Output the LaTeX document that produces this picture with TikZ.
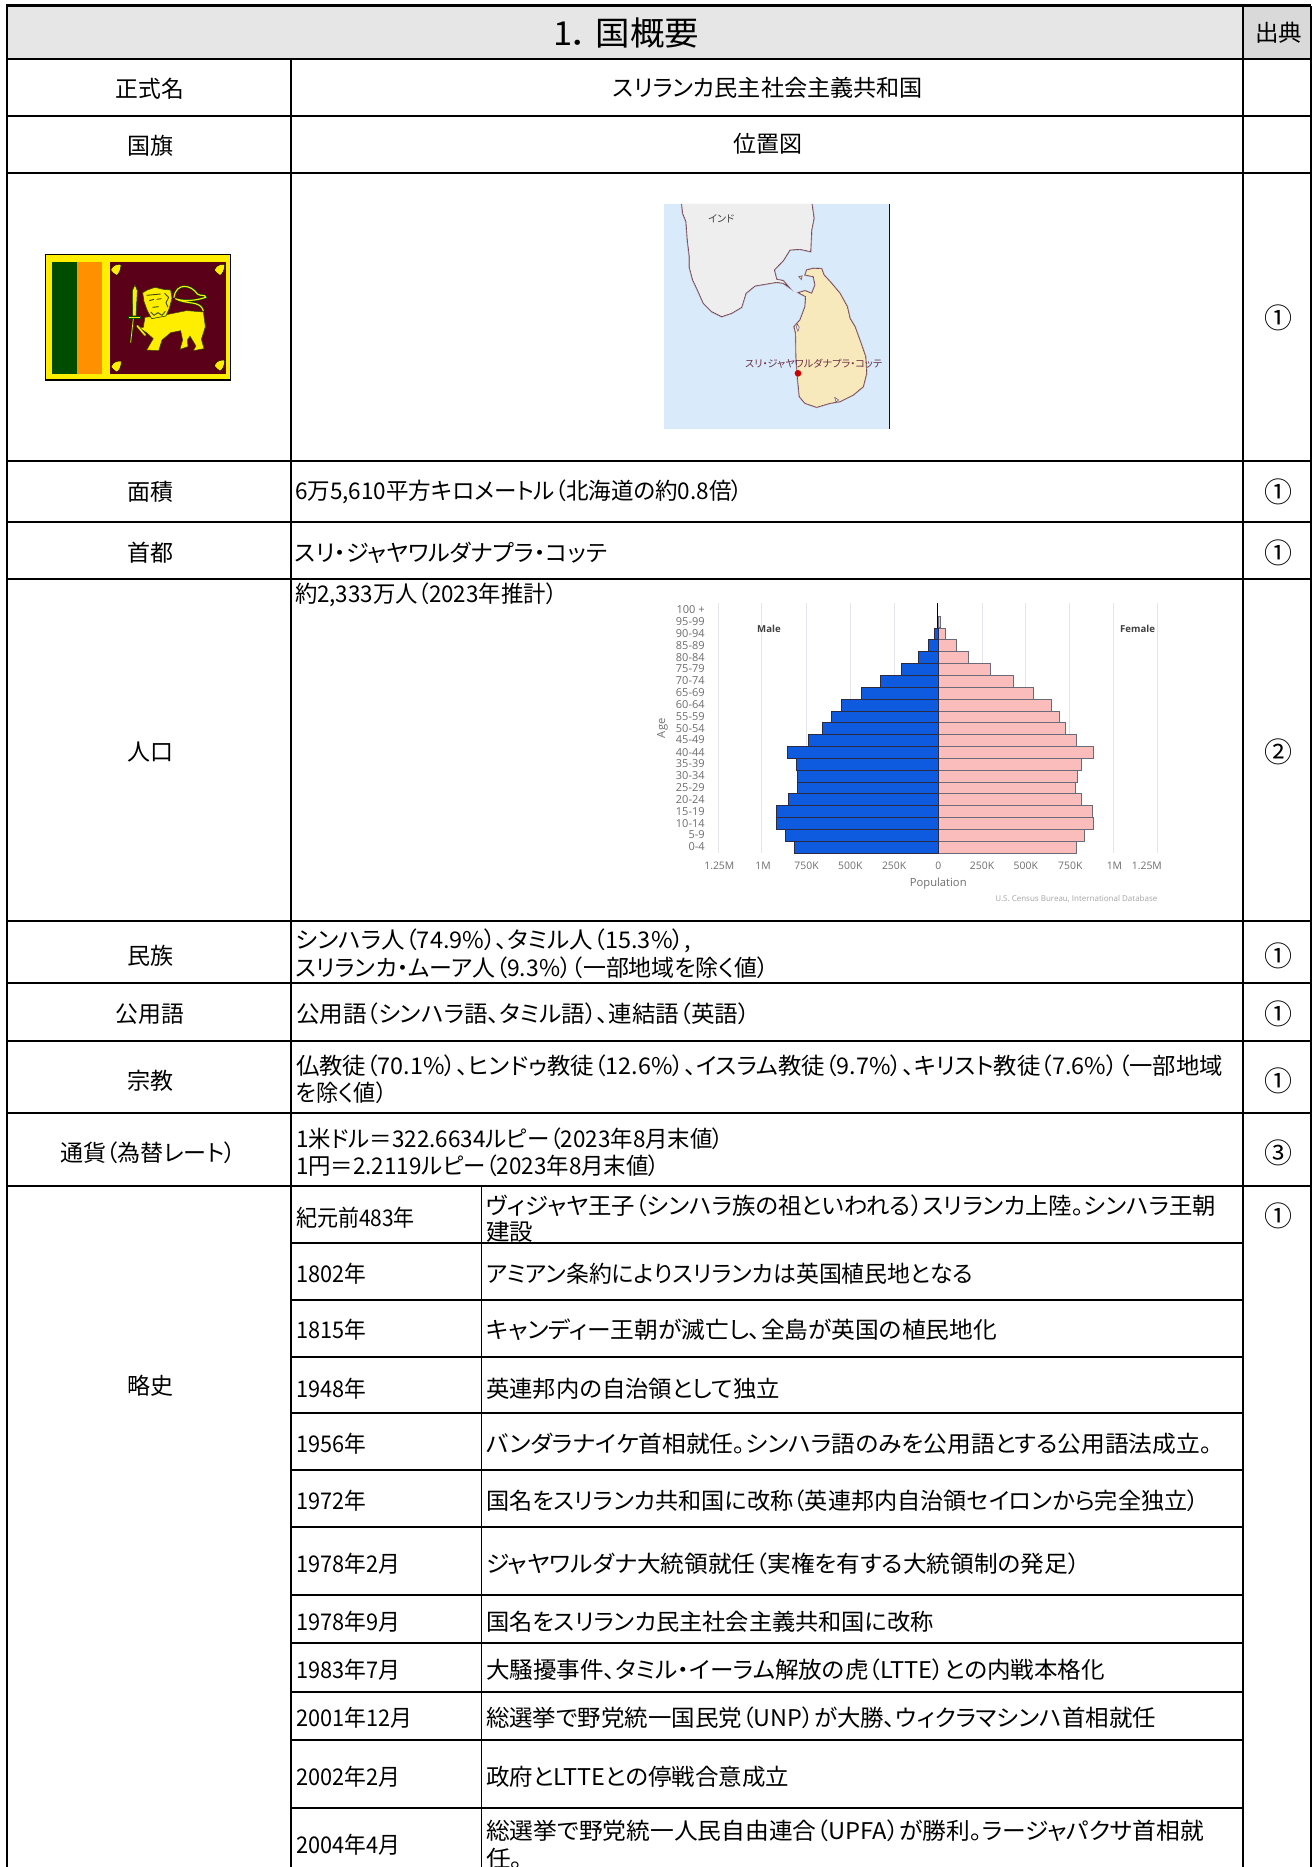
\documentclass[tikz,border=0pt]{standalone}
\usepackage{fontspec}
\usepackage{graphicx}
\setmainfont{Noto Sans CJK JP}[RawFeature=+palt]
\newfontfamily\chartfont{Open Sans}
\definecolor{hdr}{HTML}{E6E6E6}
\definecolor{hdrb}{HTML}{D9D9D9}
\definecolor{sea}{HTML}{D9EBFB}
\definecolor{land}{HTML}{EEEEEE}
\definecolor{lanka}{HTML}{F8E9BD}
\definecolor{coast}{HTML}{6E3F52}
\definecolor{coasth}{HTML}{B5A3AC}
\definecolor{maptxt}{HTML}{6B2F42}
\definecolor{flagy}{HTML}{FFEE00}
\definecolor{flagg}{HTML}{004D00}
\definecolor{flago}{HTML}{FF9000}
\definecolor{flagm}{HTML}{5A0018}
\definecolor{liond}{HTML}{3A4A00}
\definecolor{mblue}{HTML}{0F5BE0}
\definecolor{fpink}{HTML}{FBBCBC}
\definecolor{barln}{HTML}{2A2A40}
\definecolor{gridc}{HTML}{E4E4EC}
\definecolor{axc}{HTML}{6E6E6E}
\newcounter{tc}
\newsavebox\fitbox
% fit text horizontally to a target width in px
\newcommand\fw[2]{\sbox\fitbox{#2}\pgfmathsetmacro\fitr{(#1)/(\wd\fitbox)}\scalebox{\fitr}[1]{\usebox\fitbox}}
\newcommand\zst{\rule[-0.12em]{0pt}{1em}}
\tikzset{
  txt/.style={inner sep=0pt,outer sep=0pt,font=\fontsize{23}{27}\selectfont,text=black,yshift=-0.6pt},
  hline/.style={line width=2pt,line cap=rect},
  subline/.style={line width=1.3pt},
  vline/.style={line width=1.4pt},
  ctk/.style={inner sep=0pt,font=\chartfont\fontsize{10.4}{12}\selectfont,text=axc},
}
% left aligned: x1 x2 y text
\newcommand\TL[4]{\stepcounter{tc}\node[txt,anchor=west] (t\thetc) at (#1,#3) {\zst\fw{#2-#1}{#4}};}
% centred by extent
\newcommand\TC[4]{\stepcounter{tc}\node[txt,anchor=center] (t\thetc) at ({(#1+#2)/2},#3) {\zst\fw{#2-#1}{#4}};}
\newcommand\CN[2]{\stepcounter{tc}\node[txt,anchor=center,font=\fontsize{28}{30}\selectfont] (t\thetc) at (1278,#1) {\zst #2};}
\begin{document}
\begin{tikzpicture}[x=1pt,y=-1pt]
\useasboundingbox (0,0) rectangle (1312,1867);
\fill[white] (0,0) rectangle (1312,1867);
% header fills
\fill[hdr] (7,6) rectangle (1243,59);
\fill[hdrb] (1243,6) rectangle (1312,59);
% grid
\foreach \y in {59,116,173,461,522,579,921,983,1041,1113,1186} \draw[hline] (7,\y) -- (1311,\y);
\draw[line width=3pt] (6,6) -- (1311,6);
\foreach \y in {1243,1300,1357,1413,1470,1527,1595,1643,1692,1740,1808} \draw[subline] (291,\y) -- (1243,\y);
\draw[line width=2pt] (7,6) -- (7,1867);
\draw[vline] (291,59) -- (291,1867);
\draw[vline] (481.5,1186) -- (481.5,1867);
\draw[line width=1.8pt] (1243,6) -- (1243,1867);
\draw[line width=1.6pt] (1311,6) -- (1311,1867);
% header text
\stepcounter{tc}\node[txt,font=\fontsize{33}{36}\selectfont] (t\thetc) at (626,32) {\zst\fw{146}{1．\hspace{6pt}国概要}};
\TC{1255}{1302}{32}{出典}
% first column
\TC{115.6}{184}{88}{正式名}
\TC{127}{173}{145}{国旗}
\TC{127}{173}{491}{面積}
\TC{127}{173}{552}{首都}
\TC{127}{173}{751}{人口}
\TC{127}{173}{955}{民族}
\TC{115.6}{184}{1013}{公用語}
\TC{127}{173}{1080}{宗教}
\TC{60}{236}{1152}{通貨（為替レート）}
\TC{127}{173}{1385}{略史}
% main column
\TC{613}{923}{87}{スリランカ民主社会主義共和国}
\TC{733}{802}{143}{位置図}
\TL{295}{743}{491}{6万5,610平方キロメートル（北海道の約0.8倍）}
\TL{295}{607}{552}{スリ・ジャヤワルダナプラ・コッテ}
\TL{295}{557}{594}{約2,333万人（2023年推計）}
\TL{296}{691}{940}{シンハラ人（74.9\%）、タミル人（15.3\%）,}
\TL{296}{769}{967}{スリランカ・ムーア人（9.3\%）（一部地域を除く値）}
\TL{296}{750}{1013}{公用語（シンハラ語、タミル語）、連結語（英語）}
\TL{296}{1223}{1065}{仏教徒（70.1\%）、ヒンドゥ教徒（12.6\%）、イスラム教徒（9.7\%）、キリスト教徒（7.6\%）（一部地域}
\TL{296}{387}{1092}{を除く値）}
\TL{296}{724}{1138}{1米ドル＝322.6634ルピー（2023年8月末値）}
\TL{296}{660}{1165}{1円＝2.2119ルピー（2023年8月末値）}
% history
\TL{296}{415}{1217}{紀元前483年}
\TL{486}{1216}{1205}{ヴィジャヤ王子（シンハラ族の祖といわれる）スリランカ上陸。シンハラ王朝}
\TL{486}{533}{1231}{建設}
\TL{296}{366}{1273}{1802年}
\TL{486}{973}{1273}{アミアン条約によりスリランカは英国植民地となる}
\TL{296}{366}{1329}{1815年}
\TL{486}{997}{1329}{キャンディー王朝が滅亡し、全島が英国の植民地化}
\TL{296}{366}{1388}{1948年}
\TL{486}{780}{1388}{英連邦内の自治領として独立}
\TL{296}{366}{1443}{1956年}
\TL{486}{1212}{1443}{バンダラナイケ首相就任。シンハラ語のみを公用語とする公用語法成立。}
\TL{296}{366}{1500}{1972年}
\TL{486}{1199}{1500}{国名をスリランカ共和国に改称（英連邦内自治領セイロンから完全独立）}
\TL{296}{400}{1563}{1978年2月}
\TL{486}{1080}{1563}{ジャヤワルダナ大統領就任（実権を有する大統領制の発足）}
\TL{296}{400}{1621}{1978年9月}
\TL{486}{934}{1621}{国名をスリランカ民主社会主義共和国に改称}
\TL{296}{400}{1669}{1983年7月}
\TL{486}{1105}{1669}{大騒擾事件、タミル・イーラム解放の虎（LTTE）との内戦本格化}
\TL{296}{412}{1717}{2001年12月}
\TL{486}{1156}{1717}{総選挙で野党統一国民党（UNP）が大勝、ウィクラマシンハ首相就任}
\TL{296}{400}{1776}{2002年2月}
\TL{486}{789}{1776}{政府とLTTEとの停戦合意成立}
\TL{296}{400}{1844}{2004年4月}
\TL{486}{1204}{1830}{総選挙で野党統一人民自由連合（UPFA）が勝利。ラージャパクサ首相就}
\TL{486}{523}{1858}{任。}
% source column
\CN{317}{①}\CN{491}{①}\CN{552}{①}\CN{751}{②}\CN{955}{①}\CN{1013}{①}\CN{1080}{①}\CN{1152}{③}\CN{1215}{①}
% flag
\begin{scope}[shift={(30,240)},x=0.3333pt,y=-0.3333pt]
\draw[fill=flagy,draw=black,line width=1.3pt] (46,43) rectangle (601,420);
\fill[flagg] (65,67) rectangle (140,402);
\fill[flago] (140,67) rectangle (215,402);
\fill[flagm] (240,67) rectangle (588,402);
\foreach \fx/\fy in {257/88,568/88,258/378,568/375}
  \fill[flagy,draw=black,line width=.4pt] (\fx-15,\fy+2) .. controls (\fx-8,\fy-15) and (\fx+8,\fy-16) .. (\fx+16,\fy-14) .. controls (\fx+16,\fy+4) and (\fx+8,\fy+16) .. (\fx+2,\fy+18) .. controls (\fx-6,\fy+12) and (\fx-12,\fy+8) .. cycle;
% tail
\draw[flagg,line width=2.4pt,line cap=round] (432,172) .. controls (438,128) and (482,132) .. (502,162) .. controls (512,170) and (526,162) .. (527,172) .. controls (480,188) and (445,180) .. (436,176) .. controls (470,195) and (510,180) .. (520,212);
\draw[flagy,line width=1.1pt,line cap=round] (432,172) .. controls (438,128) and (482,132) .. (502,162) .. controls (512,170) and (526,162) .. (527,172) .. controls (480,188) and (445,180) .. (436,176) .. controls (470,195) and (510,180) .. (520,212);
% body and legs
\fill[flagy,draw=liond,line width=.5pt] (345,232) -- (400,226) -- (470,212) -- (520,216) -- (526,260) -- (514,298) -- (522,326) -- (490,332) -- (498,318) -- (480,288) -- (472,300) -- (474,320) -- (450,328) -- (458,300) -- (452,272) -- (422,278) -- (396,300) -- (386,332) -- (350,330) -- (370,296) -- (350,278) -- (325,262) -- (340,262) -- cycle;
% forepaw with sword hand
\draw[liond,line width=2.8pt,line cap=round] (322,258) -- (345,285);
\draw[flagy,line width=1.5pt,line cap=round] (322,258) -- (345,285);
% head and mane
\fill[flagy,draw=liond,line width=.7pt] (338,158) -- (352,150) -- (375,142) -- (400,148) -- (422,150) -- (426,175) -- (418,205) -- (408,228) -- (365,236) -- (352,212) -- (342,185) -- cycle;
\draw[liond,line width=.9pt] (350,166) -- (392,162) (358,182) -- (372,178) (380,178) -- (394,176) (368,202) -- (386,200) (362,216) -- (372,226) -- (384,218) -- (396,226) -- (406,214) (404,160) -- (416,172) -- (408,188) -- (414,202);
% sword
\fill[flagy,draw=flagg,line width=.5pt] (308,228) -- (307,152) -- (315,135) -- (322,152) -- (318,228) -- cycle;
\fill[flagy,draw=flagg,line width=.5pt] (296,228) rectangle (330,236);
\draw[flagg,line width=1.6pt] (310,236) -- (302,308);
\draw[flagy,line width=.7pt] (310,236) -- (302,308);
\end{scope}
% map
\fill[sea] (664,204) rectangle (889,428.7);
\draw[line width=.9pt,color=blue!60!black] (889,204) -- (889,428.7);
\begin{scope}[shift={(640,190)},x=0.3333pt,y=-0.3333pt]
\foreach \pass/\cc/\lw in {1/coasth/1.7pt,2/coast/.6pt}{
\draw[fill=land,draw=\cc,line width=\lw] (125,42) -- (128,70) -- (138,95) -- (142,150) -- (148,200) -- (148,232) -- (158,270) -- (170,295) -- (190,340) -- (215,365) -- (245,380) -- (275,370) -- (305,352) -- (318,310) -- (345,288) -- (380,282) -- (410,277) -- (430,280) -- (447,292) -- (430,272) -- (410,268) -- (403,240) -- (430,212) -- (450,180) -- (480,178) -- (512,185) -- (515,120) -- (522,85) -- (516,42);
\draw[fill=lanka,draw=\cc,line width=\lw] (500,240) -- (520,235) -- (545,236) -- (552,255) -- (575,280) -- (600,310) -- (622,350) -- (630,385) -- (645,410) -- (665,465) -- (677,500) -- (680,550) -- (670,590) -- (640,615) -- (600,635) -- (570,640) -- (530,652) -- (495,640) -- (478,620) -- (472,560) -- (468,500) -- (467,430) -- (462,410) -- (480,390) -- (495,350) -- (497,320) -- (475,308) -- (495,302) -- (515,310) -- (525,285) -- (520,260) -- (495,255) -- cycle;
\draw[fill=lanka,draw=\cc,line width=\lw*.7] (477,260) -- (486,258) -- (484,268) -- cycle;
\draw[fill=sea,draw=\cc,line width=\lw*.7] (472,402) -- (478,412) -- (474,424) -- (469,412) -- cycle;
\draw[fill=sea,draw=\cc,line width=\lw*.7] (584,622) -- (596,630) -- (588,636) -- cycle;
}
\fill[red!80!black] (474,550) circle (10);
\stepcounter{tc}\node[inner sep=0pt,text=black!75,font=\fontsize{10}{12}\selectfont] (t\thetc) at (244,85) {\fw{26}{インド}};
\stepcounter{tc}\node[inner sep=0pt,text=maptxt,font=\fontsize{10}{12}\selectfont] (t\thetc) at (521,520) {\fw{137}{スリ・ジャヤワルダナプラ・コッテ}};
\end{scope}
% pyramid
\begin{scope}[shift={(640,590)},x=0.3448pt,y=-0.3333pt]
\foreach \gx in {227,352,483,610,737,992,1119,1245,1373,1501} \draw[gridc,line width=.8pt] (\gx,40) -- (\gx,788);
\foreach \l/\r/\t/\b in {855/885/114/148,835/916/149/184,808/953/184/220,759/1017/221/256,698/1083/256/291,642/1142/291/328,585/1194/328/363,554/1215/363/398,529/1235/398/434,488/1265/434/469,428/1314/469/505,453/1279/505/541,455/1267/541/576,455/1262/576/611,430/1281/611/647,394/1313/647/683,394/1316/683/718,421/1290/718/754,447/1265/754/789}{
  \draw[fill=fpink,draw=barln!70,line width=.7pt] (865,\t) rectangle (\r,\b);
  \draw[fill=mblue,draw=barln,line width=.7pt] (\l,\t) rectangle (865,\b);
}
\draw[fill=fpink,draw=barln!70,line width=.7pt] (865,78) rectangle (870,113);
\draw[black,line width=1.1pt] (863,40) -- (863,115);
\foreach \a/\yy [count=\i] in {100 +/60,95-99/95,90-94/130,85-89/167,80-84/202,75-79/237,70-74/273,65-69/308,60-64/344,55-59/380,50-54/415,45-49/450,40-44/487,35-39/522,30-34/557,25-29/594,20-24/629,15-19/664,10-14/700,5-9/735,0-4/770}
  \node[ctk,anchor=east,font=\chartfont\fontsize{11}{12}\selectfont] (age\i) at (188,\yy) {\a};
\foreach \a/\xx [count=\i] in {1.25M/230,1M/357,750K/483,500K/610,250K/737,0/865,250K/992,500K/1119,750K/1248,1M/1376,1.25M/1470}
  \node[ctk] (tick\i) at (\xx,828) {\a};
\node[ctk,font=\chartfont\bfseries\fontsize{9.6}{12}\selectfont,text=black!75] (male) at (374,116) {Male};
\node[ctk,font=\chartfont\bfseries\fontsize{9.6}{12}\selectfont,text=black!75] (female) at (1443,116) {Female};
\node[ctk,font=\chartfont\fontsize{11.2}{12}\selectfont] (pop) at (865,881) {Population};
\node[ctk,rotate=90,font=\chartfont\fontsize{11.2}{12}\selectfont] (agel) at (65,415) {Age};
\node[ctk,anchor=east,text=black!35,font=\chartfont\fontsize{8}{10}\selectfont] (src) at (1501,927) {U.S. Census Bureau, International Database};
\end{scope}
\end{tikzpicture}
\end{document}
